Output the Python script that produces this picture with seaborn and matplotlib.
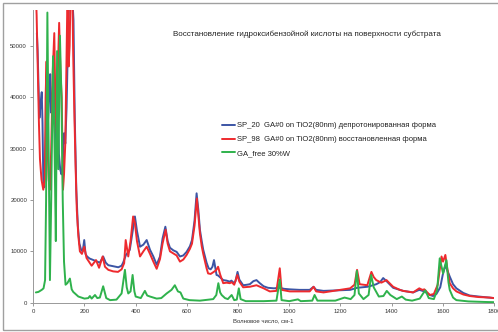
import matplotlib
matplotlib.use("Agg")
import matplotlib.pyplot as plt
import numpy as np
import pandas as pd
import seaborn as sns
from matplotlib.patches import Rectangle

# ---- data ----
blue_x = [14, 17, 20, 24, 28, 33, 36, 39, 43, 47, 52, 57, 62, 66, 70, 75, 80, 85, 90, 95,
          100, 105, 110, 115, 120, 125, 130, 135, 140, 150, 157, 162, 168, 174, 180, 187, 193, 199, 204, 210,
          220, 235, 250, 260, 273, 283, 293, 312, 332, 345, 351, 362, 370, 377, 387, 397, 405, 417, 430, 443,
          456, 469, 482, 495, 505, 516, 525, 534, 547, 560, 573, 586, 599, 612, 620, 630, 638, 645, 651, 658,
          664, 677, 685, 693, 700, 706, 712, 716, 722, 742, 755, 768, 774, 785, 790, 798, 805, 813, 820, 835,
          846, 860, 872, 885, 900, 917, 940, 963, 980, 1002, 1040, 1080, 1095, 1105, 1134, 1186, 1238, 1265,
          1305, 1320, 1340, 1355, 1367, 1380, 1406, 1445, 1484, 1508, 1528, 1549, 1562, 1575, 1590, 1600,
          1610, 1620, 1627, 1640, 1653, 1680, 1705, 1740, 1783, 1800]
blue_y = [52500, 49000, 43000, 36000, 38500, 41000, 35000, 24000, 22500, 29000, 38000, 35000, 40000, 44500,
          37000, 40000, 46000, 38000, 30000, 42000, 29000, 26000, 25000, 27000, 33000, 31000, 38000, 50000,
          60000, 62000, 55000, 36000, 22000, 15000, 11500, 10300, 10000, 12200, 9500, 9000,
          8600, 8300, 8000, 7800, 9000, 7800, 7300, 7100, 6900, 7200, 7800, 9300, 9800, 10300, 13500, 16800,
          14000, 10900, 11300, 12200, 10300, 9000, 7400, 9000, 12500, 14800, 12000, 10700, 10200, 9900, 9000,
          9200, 9900, 11000, 12200, 16000, 21300, 18000, 14200, 12000, 10300, 7800, 6700, 6500, 7000, 8300,
          6500, 5400, 5300, 4400, 4300, 4100, 4300, 3800, 4200, 6000, 4500, 3900, 3400, 3500,
          3600, 4200, 4400, 3800, 3200, 2900, 2800, 2900, 2700, 2600, 2500, 2500, 3100, 2500, 2300, 2400, 2500,
          2900, 3100, 3300, 3600, 4000, 4800, 4200, 2900, 2300, 2000, 2500, 2200, 1500, 1300, 1700, 3000, 5500,
          7300, 6000, 5100, 3600, 2800, 1900, 1400, 1200, 1000, 900]

red_x = [10, 13, 17, 22, 26, 32, 39, 45, 48, 52, 56, 60, 65, 70, 76, 82, 86, 91, 96, 101,
         106, 111, 116, 120, 125, 130, 134, 138, 142, 147, 152, 156, 160, 165, 170, 176, 182, 190, 199, 208,
         228, 245, 257, 271, 280, 293, 312, 331, 345, 355, 361, 371, 380, 390, 397, 405, 417, 430, 443, 456,
         469, 482, 495, 505, 517, 525, 534, 547, 560, 573, 586, 599, 612, 620, 630, 639, 645, 651, 658, 664,
         677, 683, 693, 705, 714, 722, 730, 742, 755, 768, 775, 785, 797, 805, 820, 846, 872, 900, 924, 950,
         963, 970, 1002, 1040, 1080, 1095, 1105, 1134, 1186, 1238, 1255, 1265, 1275, 1305, 1321, 1330, 1340,
         1360, 1380, 1392, 1406, 1432, 1445, 1484, 1508, 1520, 1528, 1549, 1565, 1580, 1595, 1601, 1610, 1618,
         1627, 1640, 1653, 1680, 1705, 1740, 1783, 1800]
red_y = [60000, 56000, 47000, 35000, 28000, 24000, 22000, 24000, 40000, 47000, 30000, 24000, 22000, 30000,
         45000, 52500, 40000, 33000, 45000, 54500, 45000, 40000, 22000, 25000, 31000, 48000, 62000, 46000,
         50000, 65000, 62000, 48000, 38000, 27000, 18000, 13000, 10000, 9500, 10900, 8700,
         7200, 8300, 6800, 9000, 7000, 6400, 6100, 6000, 6500, 7700, 12200, 9000, 12000, 16800, 15500, 12000,
         9000, 10000, 10900, 9500, 8000, 6600, 8500, 11500, 14200, 11500, 10000, 9600, 9200, 8000, 8400, 9300,
         10500, 11500, 15000, 20300, 17000, 13500, 11000, 9500, 6700, 5700, 5600, 6000, 6300, 7000, 5500,
         3800, 3900, 3800, 4000, 3500, 5400, 4100, 3000, 3100, 3400, 2800, 2200, 2300,
         6700, 2500, 2200, 2200, 2200, 3100, 2200, 2000, 2400, 2800, 3500, 6400, 3600, 3400, 6000, 5000, 4400,
         3900, 4400, 3800, 3100, 2500, 2300, 2000, 2800, 2500, 2600, 1500, 1700, 3500, 9000, 8000, 9300, 6500,
         3800, 2800, 2200, 1600, 1300, 1100, 1000, 900]

green_x = [10, 20, 33, 40, 46, 50, 55, 60, 65, 70, 77, 83, 88, 93, 98, 104, 110, 115, 120, 126,
           133, 143, 150, 156, 176, 200, 215, 221, 228, 241, 250, 260, 273, 285, 300, 325, 345, 358, 365, 371,
           380, 388, 395, 400, 420, 436, 445, 456, 482, 500, 521, 540, 553, 565, 575, 586, 610, 651, 703, 715,
           723, 730, 736, 749, 760, 775, 785, 795, 803, 810, 830, 900, 950, 963, 970, 1000, 1034, 1045, 1090,
           1099, 1110, 1180, 1216, 1240, 1255, 1264, 1272, 1290, 1310, 1320, 1330, 1350, 1368, 1381, 1395,
           1420, 1440, 1455, 1480, 1510, 1523, 1532, 1545, 1565, 1578, 1588, 1601, 1614, 1622, 1627, 1640,
           1653, 1700, 1760, 1800]
green_y = [2000, 2100, 2500, 2800, 4400, 20000, 56500, 30000, 4400, 20000, 48000, 30000, 12000, 49000,
           26000, 52000, 40000, 20000, 8000, 3500, 3800, 4700, 2600, 2100, 1200, 800, 900, 1300, 800, 1500,
           900, 1000, 3200, 900, 500, 600, 1800, 6400, 3000, 1800, 2200, 5400, 2200, 1200, 900, 2300, 1400,
           1200, 800, 900, 1800, 2500, 3400, 2200, 2000, 800, 500, 400, 700, 1500, 3800, 2000, 1500, 900, 700,
           1500, 500, 600, 2800, 700, 300, 300, 400, 4500, 500, 300, 650, 300, 400, 1500, 400, 400, 1000, 700,
           1500, 6200, 1800, 700, 1500, 5400, 3000, 1200, 1300, 2300, 1500, 700, 1200, 600, 400, 800, 1800,
           2400, 900, 700, 2500, 8650, 5700, 8300, 4000, 2500, 1000, 500, 250, 150, 100]

labels = ["SP_20  GA#0 on TiO2(80nm) депротонированная форма",
          "SP_98  GA#0 on TiO2(80nm) восстановленная форма",
          "GA_free 30%W"]
colors = ["#3c55a5", "#ee2a2e", "#2fb24c"]

title = "Восстановление гидроксибензойной кислоты на поверхности субстрата"
xlabel = "Волновое число, см-1"
xticks = [0, 200, 400, 600, 800, 1000, 1200, 1400, 1600, 1800]
yticks = [0, 10000, 20000, 30000, 40000, 50000]

# ---- plot ----
sns.set_style("white")
plt.rcParams['font.family'] = ['Liberation Sans', 'DejaVu Sans']

fig = plt.figure(figsize=(4.98, 3.32), dpi=100)
ax = fig.add_axes([33.3 / 498, 1 - 302.7 / 332, (494 - 33.3) / 498, (302.7 - 10) / 332])

for xs, ys, lab, col in zip([blue_x, red_x, green_x], [blue_y, red_y, green_y], labels, colors):
    df = pd.DataFrame({'x': xs, 'y': ys})
    sns.lineplot(x='x', y='y', data=df, ax=ax, color=col, linewidth=1.4, label=lab, sort=False)

ax.set_xlim(0, 1800)
ax.set_ylim(0, 57000)
ax.set_xticks(xticks)
ax.set_yticks(yticks)
ax.set_xticklabels([str(t) for t in xticks])
ax.set_yticklabels([str(t) for t in yticks])
ax.tick_params(axis='both', labelsize=4.3, length=2.5, width=0.6, color='#888888',
               labelcolor='#333333', pad=2, direction='out')
ax.tick_params(axis='x', bottom=True)
ax.tick_params(axis='y', left=True)
for side in ['top', 'right']:
    ax.spines[side].set_visible(False)
for side in ['left', 'bottom']:
    ax.spines[side].set_color('#999999')
    ax.spines[side].set_linewidth(0.7)
ax.set_xlabel(xlabel, fontsize=4.3, color='#333333', labelpad=3)
ax.set_ylabel('')

leg = ax.legend(loc='upper left', bbox_to_anchor=(222 / 498, 1 - 122 / 332),
                bbox_transform=fig.transFigure, frameon=False, fontsize=5.5,
                handlelength=1.75, handletextpad=0.15, labelspacing=0.85,
                borderpad=0, borderaxespad=0)
for t in leg.get_texts():
    t.set_color('#222222')

fig.text(0.617, 1 - 34 / 332, title, fontsize=5.8, ha='center', va='center', color='#222222')

# outer chart border
fig.patches.append(Rectangle((3 / 498, 2 / 332), 0.999, 1 - 5 / 332, transform=fig.transFigure,
                             fill=False, edgecolor='#a0a0a0', linewidth=1.0))

fig.savefig('out.png', dpi=100)
